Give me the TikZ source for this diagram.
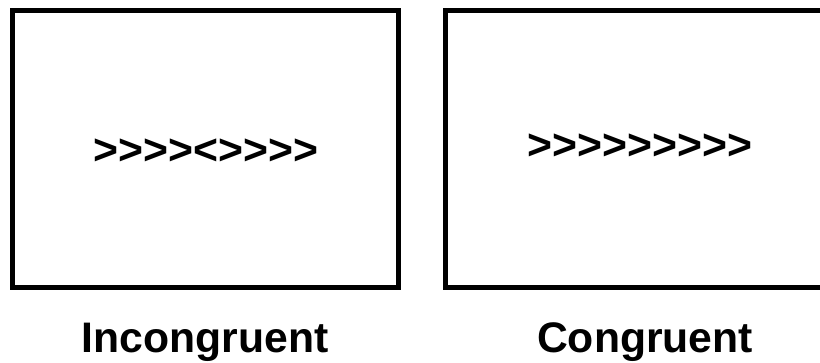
\documentclass[tikz,border=0pt]{standalone}
\usepackage{fontspec}
\setmainfont{Liberation Sans}
\begin{document}
\begin{tikzpicture}[x=1pt,y=-1pt,
  panel/.style={draw=black,line width=5pt},
  lbl/.style={font=\fontsize{42.7}{50}\selectfont\bfseries,anchor=base,inner sep=0pt}]
\useasboundingbox (0,0) rectangle (820,362);
\clip (0,0) rectangle (820,362);
\draw[panel] (12.5,10.5) rectangle (398.5,287.5);
\draw[panel] (445.5,10.5) rectangle (842,287.5);
\node[lbl] (inc) at (206,164) {>{}>{}>{}>{}<{}>{}>{}>{}>};
\node[lbl] (con) at (640,159) {>{}>{}>{}>{}>{}>{}>{}>{}>};
\node[lbl] (linc) at (205,352) {Incongruent};
\node[lbl] (lcon) at (645,352) {Congruent};
\end{tikzpicture}
\end{document}
